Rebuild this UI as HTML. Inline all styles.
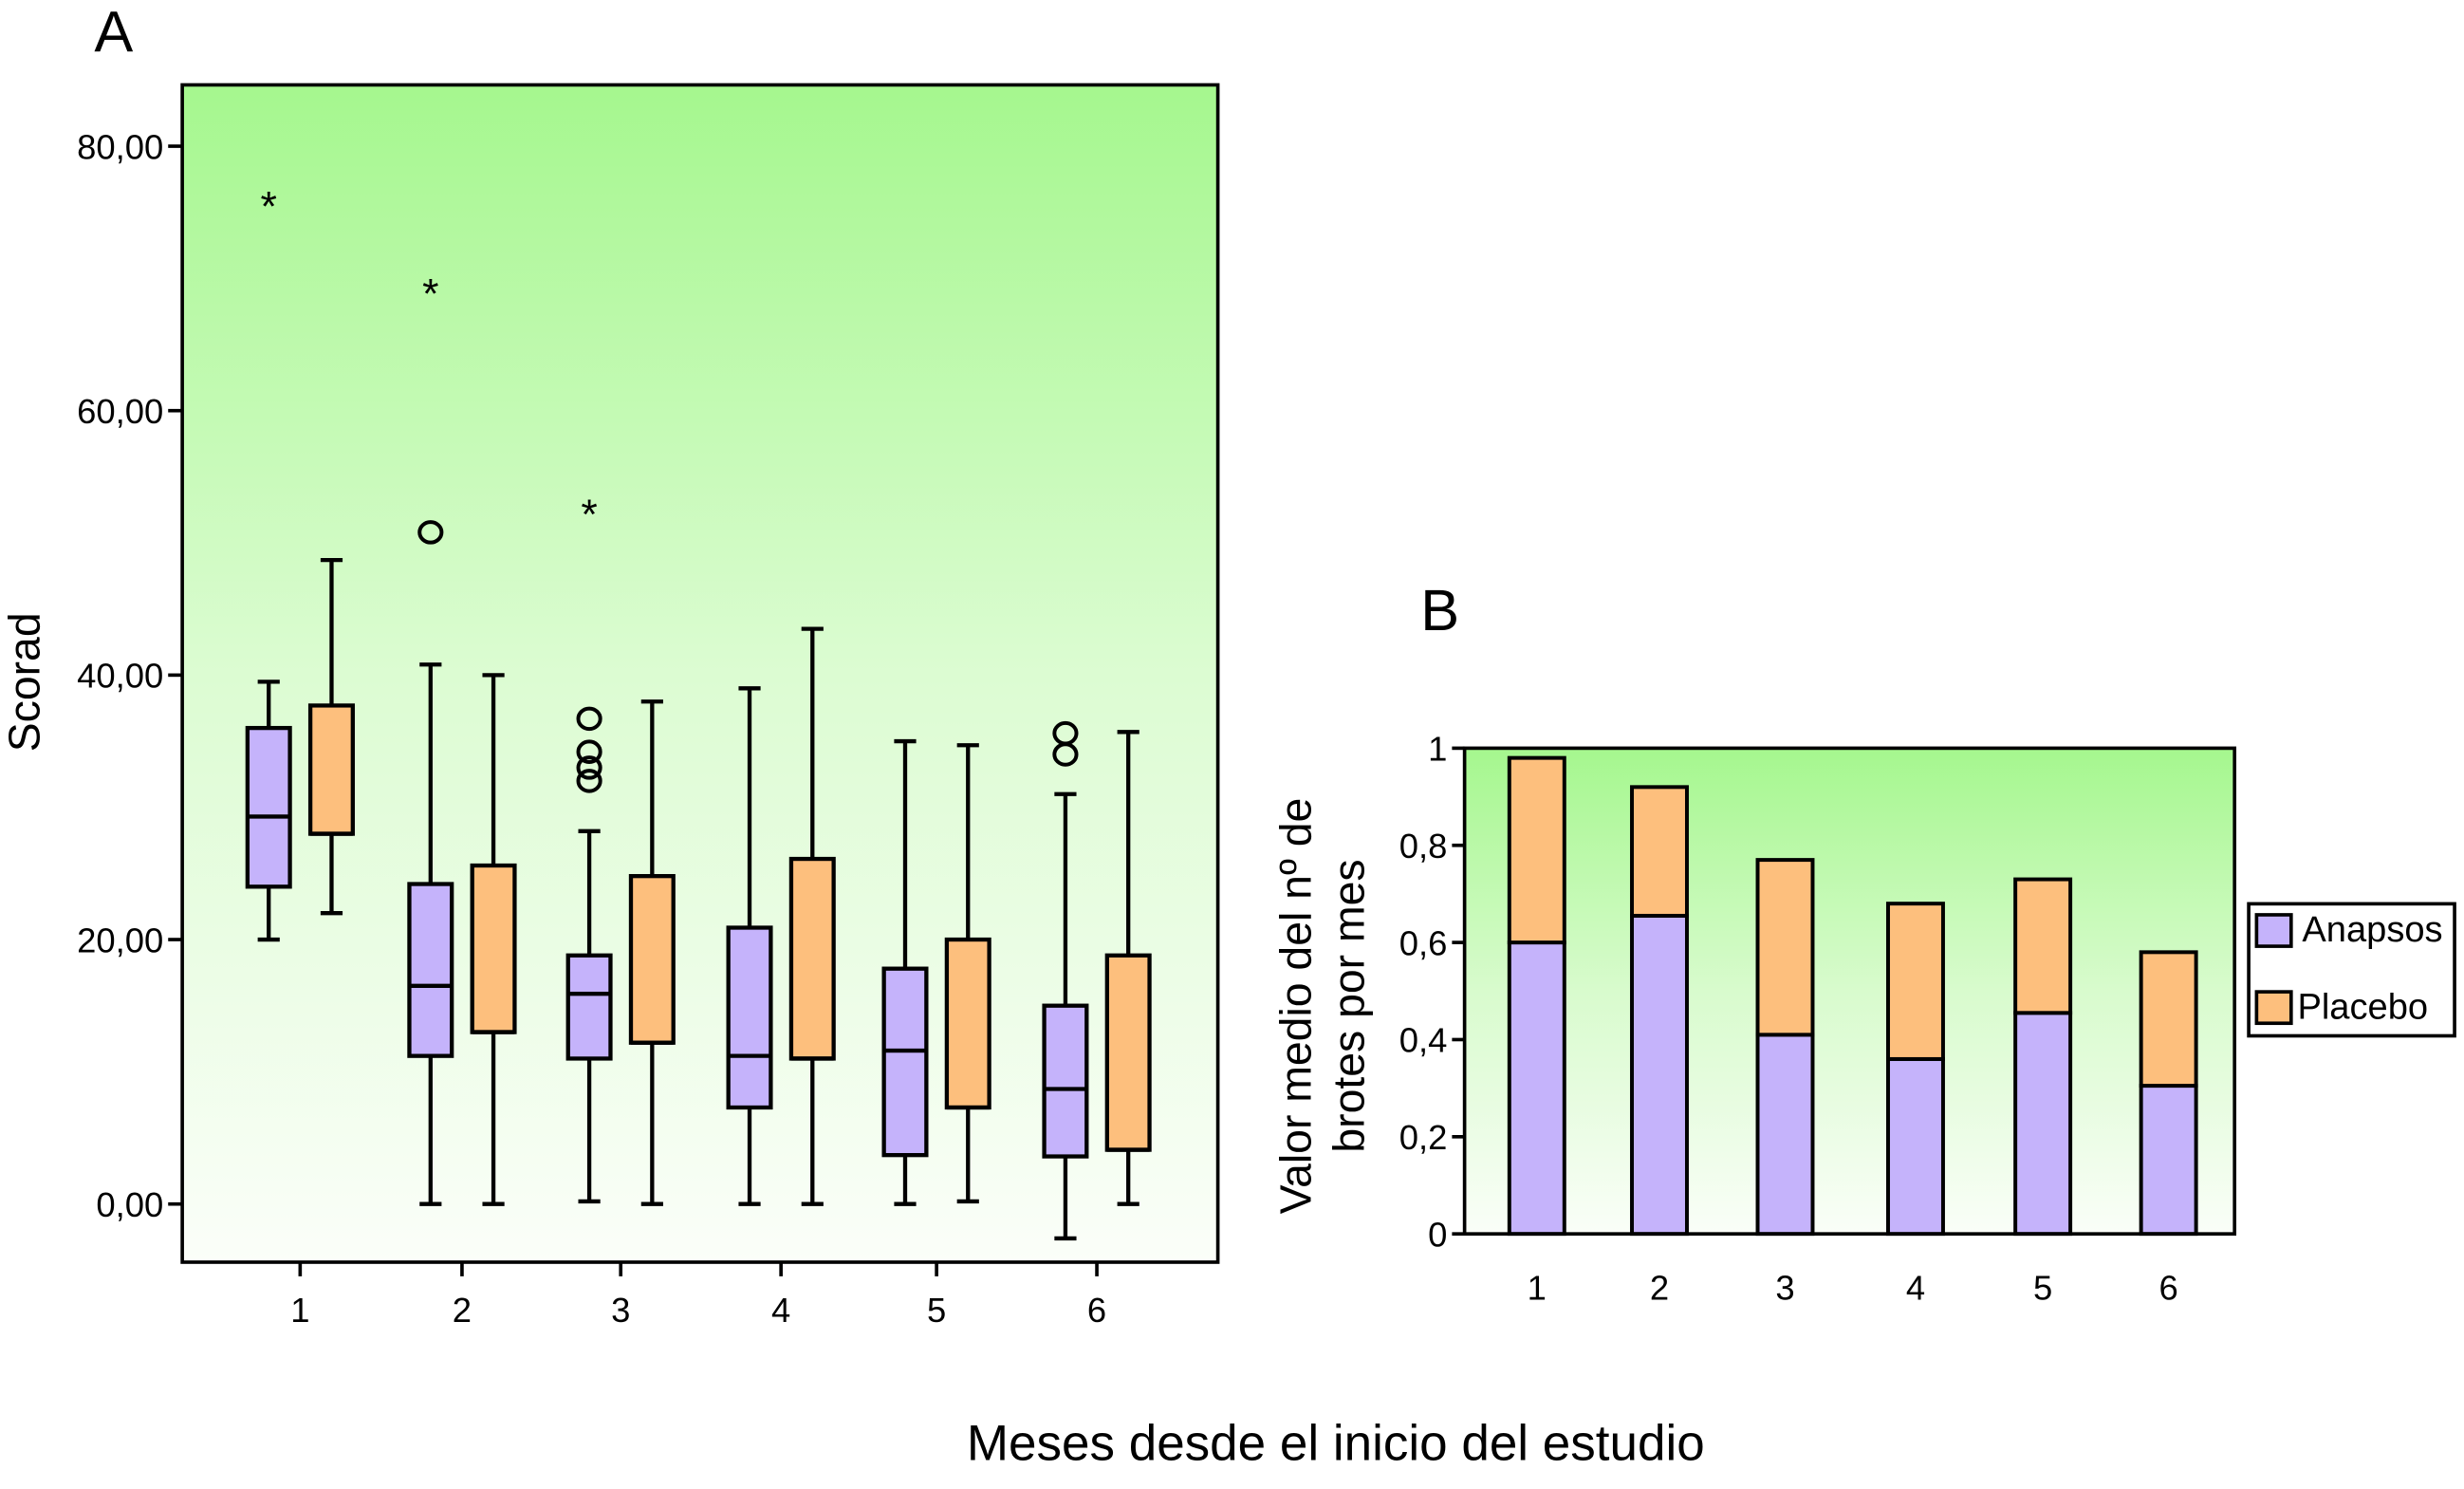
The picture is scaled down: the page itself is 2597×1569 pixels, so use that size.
<!DOCTYPE html>
<html><head><meta charset="utf-8"><style>
html,body{margin:0;padding:0;background:#fff;}
svg{display:block;font-family:"Liberation Sans",Arial,sans-serif;}
</style></head><body>
<svg id="chart" width="2597" height="1569" viewBox="0 0 1568 947.3" xmlns="http://www.w3.org/2000/svg">
<defs>
<linearGradient id="gA" x1="0" y1="0" x2="0" y2="1"><stop offset="0" stop-color="#a5f78e"/><stop offset="0.5" stop-color="#dcfcd2"/><stop offset="1" stop-color="#fbfef9"/></linearGradient>
<linearGradient id="gB" x1="0" y1="0" x2="0" y2="1"><stop offset="0" stop-color="#a5f78e"/><stop offset="0.5" stop-color="#d8fbcd"/><stop offset="1" stop-color="#fafef8"/></linearGradient>
</defs>
<g id="pa"></g>
<g id="pb"></g>
<text x="60" y="33" font-size="37">A</text>
<text x="904" y="401" font-size="37">B</text>
<text transform="translate(25,434) rotate(-90)" font-size="28" text-anchor="middle">Scorad</text>
<text transform="translate(834,640) rotate(-90)" font-size="28" text-anchor="middle">Valor medio del nº de</text>
<text transform="translate(868,640) rotate(-90)" font-size="28" text-anchor="middle">brotes por mes</text>
<text x="850" y="929" font-size="32" text-anchor="middle">Meses desde el inicio del estudio</text>
</svg>
<script>
const months = ["1","2","3","4","5","6"];
const aTicks = [0,20,40,60,80];
const aTickLabels = ["0,00","20,00","40,00","60,00","80,00"];
// [lowWhisker, q1, median, q3, highWhisker]
const anapsosBox = [[20,24,29.3,36,39.5],[0,11.2,16.5,24.2,40.8],[0.2,11,15.9,18.8,28.2],[0,7.3,11.2,20.9,39],[0,3.7,11.6,17.8,35],[-2.6,3.6,8.7,15,31]];
const placeboBox = [[22,28,28,37.7,48.7],[0,13,13,25.6,40],[0,12.2,12.2,24.8,38],[0,11,11,26.1,43.5],[0.2,7.3,7.3,20,34.7],[0,4.1,4.1,18.8,35.7]];
const anapsosCircles = [[],[50.8],[36.7,34.2,33,32],[],[],[35.6,34]];
const anapsosStars = [[75.8],[69.2],[52.5],[],[],[]];
const bTicks = [0,0.2,0.4,0.6,0.8,1];
const bTickLabels = ["0","0,2","0,4","0,6","0,8","1"];
const anapsosBar = [0.6,0.655,0.41,0.36,0.455,0.305];
const placeboBar = [0.38,0.265,0.36,0.32,0.275,0.275];

const NS="http://www.w3.org/2000/svg";
function mk(parent,tag,attrs,text){const e=document.createElementNS(NS,tag);for(const k in attrs)e.setAttribute(k,attrs[k]);if(text!==undefined)e.textContent=text;parent.appendChild(e);return e;}
const PURPLE="#c5b3fb", ORANGE="#fdbf7d";

// Panel A
const pa=document.getElementById('pa');
const yA=v=>766-v*8.4125;
const xA=i=>[191,294,395,497,596,698][i];
let r=mk(pa,'rect',{x:116,y:54,width:659,height:749,fill:'url(#gA)',stroke:'#000','stroke-width':2.2});

aTicks.forEach((t,i)=>{
  let l=mk(pa,'line',{x1:107,x2:116,y1:yA(t),y2:yA(t),stroke:'#000','stroke-width':2.2});
  
  let tx=mk(pa,'text',{x:104,y:yA(t)+8,'font-size':22,'text-anchor':'end'},aTickLabels[i]);
  
});
months.forEach((m,i)=>{
  let l=mk(pa,'line',{x1:xA(i),x2:xA(i),y1:803,y2:812,stroke:'#000','stroke-width':2.2});
  
  let tx=mk(pa,'text',{x:xA(i),y:841,'font-size':22,'text-anchor':'middle'},m);
  
});
function box(g,cx,d,fill,name){
  const w=27,cap=7;
  const grp=mk(g,'g',{});
  
  const s={stroke:'#000','stroke-width':2.6};
  mk(grp,'line',Object.assign({x1:cx,x2:cx,y1:yA(d[0]),y2:yA(d[4])},s));
  mk(grp,'line',Object.assign({x1:cx-cap,x2:cx+cap,y1:yA(d[0]),y2:yA(d[0])},s));
  mk(grp,'line',Object.assign({x1:cx-cap,x2:cx+cap,y1:yA(d[4]),y2:yA(d[4])},s));
  mk(grp,'rect',Object.assign({x:cx-w/2,y:yA(d[3]),width:w,height:yA(d[1])-yA(d[3]),fill:fill},s));
  mk(grp,'line',Object.assign({x1:cx-w/2,x2:cx+w/2,y1:yA(d[2]),y2:yA(d[2])},s));
}
months.forEach((m,i)=>{
  const cp=xA(i)-20, co=xA(i)+20;
  box(pa,cp,anapsosBox[i],PURPLE,'box-anapsos-'+m);
  box(pa,co,placeboBox[i],ORANGE,'box-placebo-'+m);
  anapsosCircles[i].forEach(v=>{
    let c=mk(pa,'ellipse',{cx:cp,cy:yA(v),rx:7,ry:6.5,fill:'none',stroke:'#000','stroke-width':2.4});
    
  });
  anapsosStars[i].forEach(v=>{
    let t=mk(pa,'text',{x:cp,y:yA(v)+12,'font-size':27,'text-anchor':'middle'},'*');
    
  });
});

// Panel B
const pb=document.getElementById('pb');
const yB=v=>785-v*309;
const xB=i=>[978,1056,1136,1219,1300,1380][i];
r=mk(pb,'rect',{x:932,y:476,width:490,height:309,fill:'url(#gB)',stroke:'#000','stroke-width':2.2});

bTicks.forEach((t,i)=>{
  let l=mk(pb,'line',{x1:924,x2:932,y1:yB(t),y2:yB(t),stroke:'#000','stroke-width':2.2});
  
  let tx=mk(pb,'text',{x:921,y:yB(t)+8,'font-size':22,'text-anchor':'end'},bTickLabels[i]);
  
});
months.forEach((m,i)=>{
  let tx=mk(pb,'text',{x:xB(i),y:827,'font-size':22,'text-anchor':'middle'},m);
  
  const w=35,x=xB(i)-w/2;
  let b1=mk(pb,'rect',{x:x,y:yB(anapsosBar[i]),width:w,height:yB(0)-yB(anapsosBar[i]),fill:PURPLE,stroke:'#000','stroke-width':2.4});
  
  const top=anapsosBar[i]+placeboBar[i];
  let b2=mk(pb,'rect',{x:x,y:yB(top),width:w,height:yB(anapsosBar[i])-yB(top),fill:ORANGE,stroke:'#000','stroke-width':2.4});
  
});
// Legend
const lg=mk(pb,'g',{});

mk(lg,'rect',{x:1431,y:575,width:131,height:84,fill:'#fff',stroke:'#000','stroke-width':2.2});
let e1=mk(lg,'g',{});

mk(e1,'rect',{x:1436,y:582,width:22,height:20,fill:PURPLE,stroke:'#000','stroke-width':2.2});
mk(e1,'text',{x:1465,y:599,'font-size':23},'Anapsos');
let e2=mk(lg,'g',{});

mk(e2,'rect',{x:1436,y:631,width:22,height:20,fill:ORANGE,stroke:'#000','stroke-width':2.2});
mk(e2,'text',{x:1462,y:648,'font-size':23},'Placebo');
</script>
</body></html>
